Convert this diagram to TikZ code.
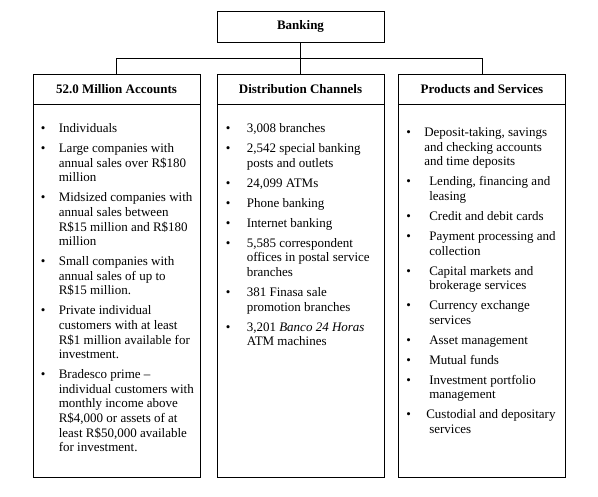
\documentclass[tikz,border=0pt]{standalone}
\usepackage{fontspec}
\setmainfont{Liberation Serif}
\usetikzlibrary{positioning}

\newenvironment{bulletlist}[1]{%
  \begin{list}{\textbullet}{\setlength{\leftmargin}{#1}%
    \setlength{\labelsep}{0pt}\setlength{\labelwidth}{#1}%
    \setlength{\itemsep}{5.4pt}\setlength{\parsep}{0pt}%
    \setlength{\topsep}{0pt}\setlength{\partopsep}{0pt}%
    \renewcommand{\makelabel}[1]{##1\hfil}}\raggedright}
  {\end{list}}

\begin{document}
\begin{tikzpicture}[x=1pt,y=-1pt,
  box_node/.style={draw,line width=0.8pt,minimum width=167pt,inner sep=0pt,
    font=\fontsize{13}{14.6}\selectfont\bfseries},
  head_node/.style={box_node,minimum height=30pt},
  body_node/.style={draw,line width=0.8pt,minimum width=167pt,minimum height=373pt,inner sep=0pt},
  list_node/.style={anchor=north west,inner sep=0pt,font=\fontsize{13}{14.6}\selectfont}]

\useasboundingbox (0,0) rectangle (598,497);

\node[box_node,minimum height=31pt] (bank) at (300.5,26.5) {Banking};
\node[head_node] (accts) at (116.5,89) {52.0 Million Accounts};
\node[head_node] (chans) at (300.5,89) {Distribution Channels};
\node[head_node] (prods) at (482,89) {Products and Services};

\node[body_node,below=0pt of accts] (acctsbody) {};
\node[body_node,below=0pt of chans] (chansbody) {};
\node[body_node,below=0pt of prods] (prodsbody) {};

\coordinate (fork) at (300.5,58);
\draw[line width=0.8pt] (bank) -- (fork);
\draw[line width=0.8pt] (fork) -| (accts.north);
\draw[line width=0.8pt] (fork) -- (chans.north);
\draw[line width=0.8pt] (fork) -| (prods.north);

\node[list_node] (acctslist) at ([xshift=8pt,yshift=-19pt]acctsbody.north west) {%
  \begin{minipage}[t]{165pt}\begin{bulletlist}{18pt}
  \item Individuals
  \item Large companies with\\annual sales over R\$180\\million
  \item Midsized companies with\\annual sales between\\R\$15 million and R\$180\\million
  \item Small companies with\\annual sales of up to\\R\$15 million.
  \item Private individual\\customers with at least\\R\$1 million available for\\investment.
  \item Bradesco prime --\\individual customers with\\monthly income above\\R\$4,000 or assets of at\\least R\$50,000 available\\for investment.
  \end{bulletlist}\end{minipage}};

\node[list_node] (chanslist) at ([xshift=9pt,yshift=-19pt]chansbody.north west) {%
  \begin{minipage}[t]{160pt}\begin{bulletlist}{21pt}
  \item 3,008 branches
  \item 2,542 special banking\\posts and outlets
  \item 24,099 ATMs
  \item Phone banking
  \item Internet banking
  \item 5,585 correspondent\\offices in postal service\\branches
  \item 381 Finasa sale\\promotion branches
  \item 3,201 \textit{Banco 24 Horas}\\ATM machines
  \end{bulletlist}\end{minipage}};

\node[list_node] (prodslist) at ([xshift=8pt,yshift=-23pt]prodsbody.north west) {%
  \begin{minipage}[t]{160pt}\begin{bulletlist}{23pt}
  \item \hspace*{-5pt}Deposit-taking, savings\\\hspace*{-5pt}and checking accounts\\\hspace*{-5pt}and time deposits
  \item Lending, financing and\\leasing
  \item Credit and debit cards
  \item Payment processing and\\collection
  \item Capital markets and\\brokerage services
  \item Currency exchange\\services
  \item Asset management
  \item Mutual funds
  \item Investment portfolio\\management
  \item \hspace*{-3pt}Custodial and depositary\\services
  \end{bulletlist}\end{minipage}};

\end{tikzpicture}
\end{document}
